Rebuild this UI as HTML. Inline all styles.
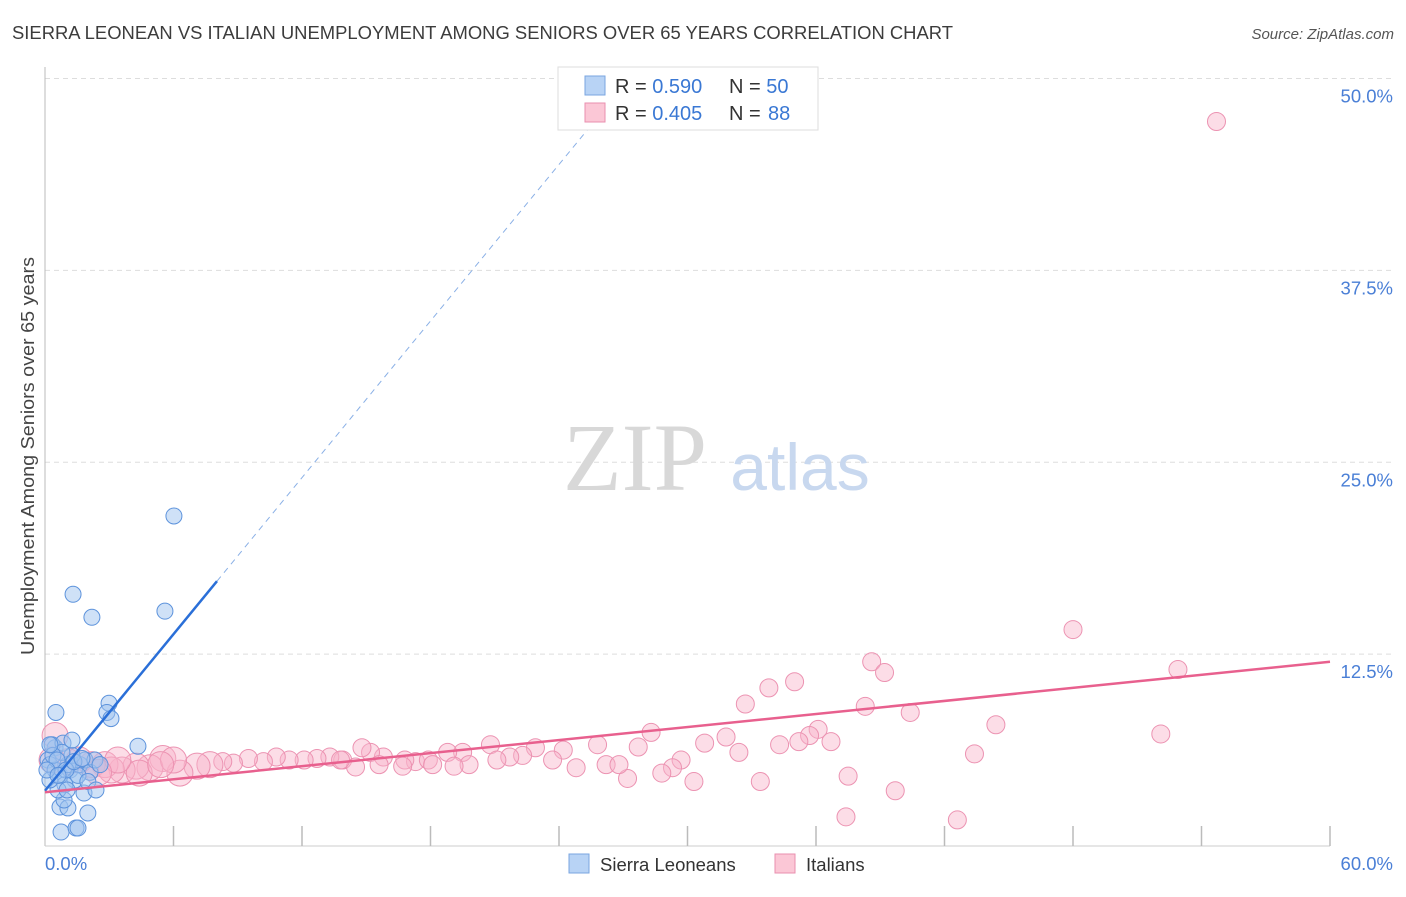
<!DOCTYPE html>
<html><head><meta charset="utf-8"><style>
body{margin:0;background:#fff;font-family:"Liberation Sans",sans-serif;}
svg text{font-family:"Liberation Sans",sans-serif;}
</style></head><body>
<svg id="chart" width="1406" height="892">
<text x="12" y="39" font-size="18" textLength="941" lengthAdjust="spacingAndGlyphs" fill="#3c3c3c">SIERRA LEONEAN VS ITALIAN UNEMPLOYMENT AMONG SENIORS OVER 65 YEARS CORRELATION CHART</text>
<text x="1394" y="39" font-size="15" fill="#555" font-style="italic" text-anchor="end">Source: ZipAtlas.com</text>
<g id="grid"></g>
<text x="635" y="490" font-size="96" fill="#d8d8d8" text-anchor="middle" style="font-family:'Liberation Serif',serif">ZIP</text>
<text x="800" y="490" font-size="66" fill="#c8d8ef" text-anchor="middle">atlas</text>
<g id="axes"></g>
<g id="pink"></g>
<g id="blue"></g>
<g id="lines"></g>
<text transform="translate(34,456) rotate(-90)" font-size="18" textLength="398" lengthAdjust="spacingAndGlyphs" fill="#444" text-anchor="middle">Unemployment Among Seniors over 65 years</text>
<text x="45" y="870" font-size="18.5" fill="#4a7fd6">0.0%</text>
<text x="1393" y="870" font-size="18.5" fill="#4a7fd6" text-anchor="end">60.0%</text>
<g>
<rect x="558" y="67" width="260" height="63" fill="#fff" stroke="#ddd"/>
<rect x="585" y="76" width="20" height="19" fill="#b8d3f5" stroke="#7aa6e0"/>
<rect x="585" y="103" width="20" height="19" fill="#fbc7d6" stroke="#e98faf"/>
<text x="615" y="93" font-size="20" fill="#333">R = <tspan fill="#3a78d4">0.590</tspan><tspan x="729">N = </tspan><tspan fill="#3a78d4">50</tspan></text>
<text x="615" y="120" font-size="20" fill="#333">R = <tspan fill="#3a78d4">0.405</tspan><tspan x="729">N = </tspan><tspan x="768" fill="#3a78d4">88</tspan></text>
</g>
<g>
<rect x="569" y="854" width="20" height="19" fill="#b8d3f5" stroke="#7aa6e0"/>
<text x="600" y="871" font-size="18.5" fill="#333">Sierra Leoneans</text>
<rect x="775" y="854" width="20" height="19" fill="#fbc7d6" stroke="#e98faf"/>
<text x="806" y="871" font-size="18.5" fill="#333">Italians</text>
</g>
</svg>
<script>
const yTicks=[12.5,25,37.5,50];
const yTickLabels=["12.5%","25.0%","37.5%","50.0%"];
const xTicks=[6,12,18,24,30,36,42,48,54,60];
const blueX=[6.02,1.31,2.19,5.6,0.51,2.99,2.89,3.08,4.34,2.0,0.7,1.07,0.89,1.82,0.75,1.45,1.54,0.47,0.33,0.84,0.14,0.23,0.47,0.7,1.17,1.63,1.87,2.1,1.4,0.93,0.61,0.23,1.26,2.33,2.57,1.07,1.54,2.0,0.79,0.37,0.56,0.98,1.35,1.73,2.38,1.03,0.09,1.26,0.23,0.61];
const blueY=[21.5,16.4,14.9,15.3,8.7,9.3,8.7,8.3,6.5,2.15,2.54,2.48,3.0,3.45,0.91,1.17,1.17,6.4,6.6,6.7,5.6,5.3,4.95,4.6,4.95,5.3,5.6,4.8,4.3,4.0,3.65,4.3,5.9,5.6,5.3,5.3,4.6,4.2,6.1,5.9,5.6,4.95,5.5,5.7,3.65,3.65,4.95,6.9,6.6,4.6];
const pinkX=[54.7,48.0,38.6,39.2,52.9,35.0,33.8,32.7,38.3,40.4,44.4,52.1,28.3,31.8,36.1,35.7,36.7,34.3,35.2,30.8,32.4,43.4,29.7,29.3,27.7,25.8,24.2,22.9,22.3,20.8,19.5,18.8,17.3,17.9,16.8,15.8,15.2,14.8,13.9,13.3,12.7,12.1,11.4,10.8,10.2,9.5,8.8,8.3,7.7,7.1,6.3,5.5,4.9,4.25,3.6,2.8,2.2,1.6,1.07,0.47,0.33,37.5,28.8,27.2,26.2,26.8,24.8,23.7,21.7,21.1,19.8,19.1,18.1,16.7,15.6,14.5,13.8,30.3,33.4,39.7,37.4,42.6,6.0,3.1,4.4,3.4,5.4,2.5];
const pinkY=[47.2,14.1,12.0,11.3,11.5,10.7,10.3,9.25,9.1,8.7,7.9,7.3,7.4,7.1,7.6,7.2,6.8,6.6,6.8,6.7,6.1,6.0,5.6,5.1,6.45,6.6,6.25,6.4,5.9,6.6,6.1,6.1,5.5,5.6,5.6,5.8,6.1,6.4,5.6,5.8,5.7,5.6,5.6,5.8,5.5,5.7,5.4,5.5,5.3,5.2,4.75,5.7,5.1,5.2,4.95,5.3,5.3,5.6,5.5,7.2,5.6,4.55,4.75,4.4,5.3,5.3,5.1,5.6,5.8,5.6,5.3,5.2,5.3,5.2,5.3,5.15,5.6,4.2,4.2,3.6,1.9,1.7,5.6,4.95,4.75,5.6,5.3,4.8];
const blueTrend=[3.6,1.70];
const pinkTrend=[3.5,0.1417];

const NS="http://www.w3.org/2000/svg";
const xs=v=>45+v*(1285/60);
const ys=v=>846-v*15.35;
function mk(tag,attrs,parent){const e=document.createElementNS(NS,tag);for(const k in attrs)e.setAttribute(k,attrs[k]);parent.appendChild(e);return e;}
const grid=document.getElementById('grid'),axes=document.getElementById('axes');
yTicks.forEach((t,i)=>{
  const l=mk('line',{x1:45,x2:1393,y1:ys(t),y2:ys(t),stroke:'#ddd','stroke-dasharray':'5,4'},grid);
  
  
  const tx=mk('text',{x:1393,y:ys(t)+24,'font-size':18.5,fill:'#4a7fd6','text-anchor':'end'},axes);
  tx.textContent=yTickLabels[i];
  
  
});
const ya=mk('line',{x1:45,x2:45,y1:67,y2:846,stroke:'#bbb'},axes);


const xa=mk('line',{x1:45,x2:1330,y1:846,y2:846,stroke:'#ccc'},axes);


xTicks.forEach(t=>{
  const l=mk('line',{x1:xs(t),x2:xs(t),y1:826,y2:846,stroke:'#bbb','stroke-width':1.5},axes);
  
  
});
const pg=document.getElementById('pink');
pinkX.forEach((x,i)=>{
  const c=mk('circle',{cx:xs(x),cy:ys(pinkY[i]),r:x<8?13:9,fill:'rgba(248,180,202,0.45)',stroke:'#ec93b2','stroke-width':1},pg);
  
  
});
const bg=document.getElementById('blue');
blueX.forEach((x,i)=>{
  const c=mk('circle',{cx:xs(x),cy:ys(blueY[i]),r:8,fill:'rgba(160,196,240,0.5)',stroke:'#5d93dc','stroke-width':1},bg);
  
  
});
const lg=document.getElementById('lines');
const bEnd=8.03, bDash=(50-blueTrend[0])/blueTrend[1];
const b1=mk('line',{x1:xs(0),y1:ys(blueTrend[0]),x2:xs(bEnd),y2:ys(blueTrend[0]+blueTrend[1]*bEnd),stroke:'#2a6fd8','stroke-width':2.5},lg);


const b2=mk('line',{x1:xs(bEnd),y1:ys(blueTrend[0]+blueTrend[1]*bEnd),x2:xs(bDash),y2:ys(50),stroke:'#8ab0e6','stroke-width':1,'stroke-dasharray':'6,5'},lg);


const p1=mk('line',{x1:xs(0),y1:ys(pinkTrend[0]),x2:xs(60),y2:ys(pinkTrend[0]+pinkTrend[1]*60),stroke:'#e8608e','stroke-width':2.5},lg);


</script>
</body></html>
